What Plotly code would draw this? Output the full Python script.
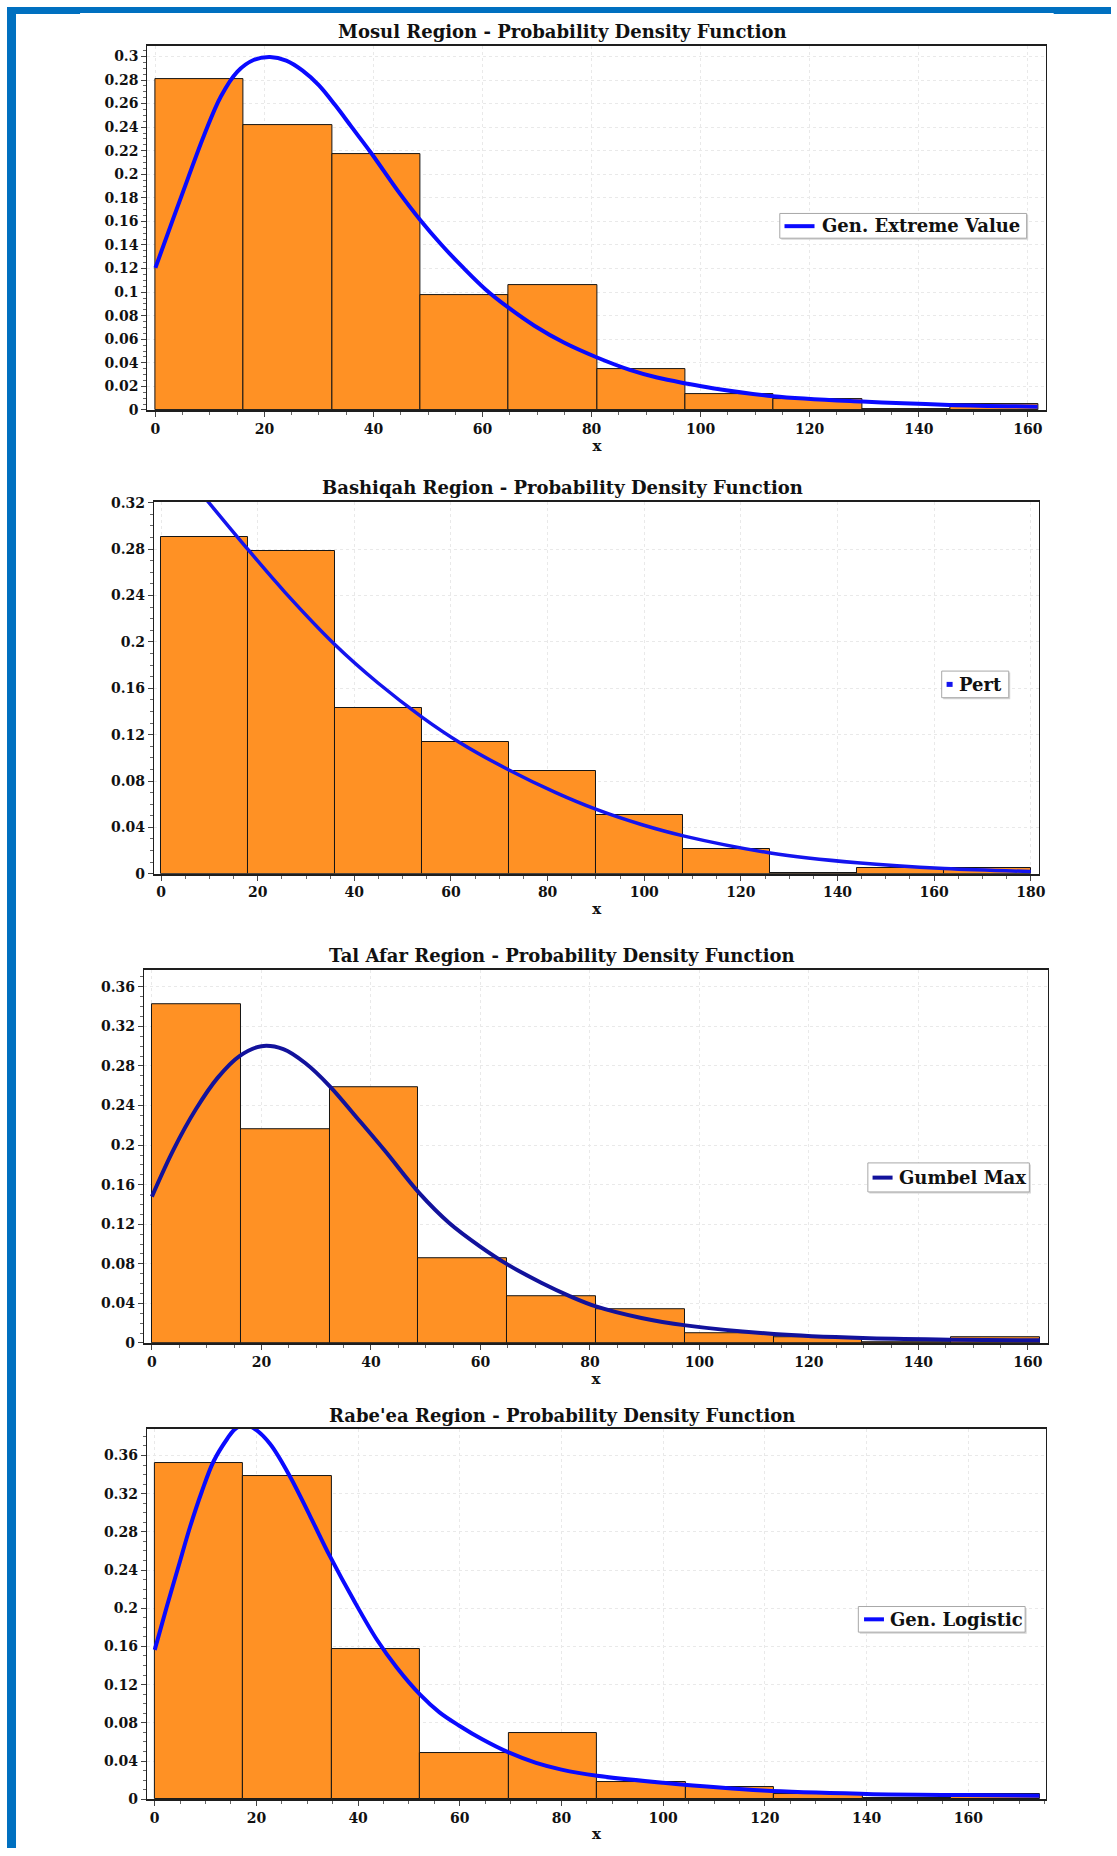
import plotly.graph_objects as go

W, H = 1117, 1856
FONT = "DejaVu Serif"

# ---------------- data ----------------
titles = [
    "Mosul Region - Probability Density Function",
    "Bashiqah Region - Probability Density Function",
    "Tal Afar Region - Probability Density Function",
    "Rabe'ea Region - Probability Density Function",
]
dist_names = ["Gen. Extreme Value", "Pert", "Gumbel Max", "Gen. Logistic"]

mosul_edges = [0, 16.2, 32.4, 48.6, 64.8, 81.0, 97.2, 113.4, 129.6, 145.8, 162.0]
mosul_freq = [0.2806, 0.2420, 0.2168, 0.0976, 0.1064, 0.0343, 0.0134, 0.0091, 0.0006, 0.0049]
mosul_cx = [0, 3, 6, 9, 12, 15, 18, 21, 24, 27, 30, 33, 36, 39.5, 44.7, 48.6, 52.5, 56.5,
            60.5, 64.7, 69.5, 75, 81, 87, 92, 97.3, 102.2, 113.3, 129.6, 145.6, 161.8]
mosul_cy = [0.1206, 0.159, 0.197, 0.234, 0.266, 0.287, 0.297, 0.2995, 0.2965, 0.288, 0.2755,
            0.2585, 0.240, 0.2185, 0.1844, 0.161, 0.140, 0.1205, 0.1025, 0.087, 0.0715, 0.057,
            0.0445, 0.034, 0.0275, 0.0225, 0.0185, 0.0117, 0.0071, 0.0043, 0.0028]

bash_edges = [0, 18, 36, 54, 72, 90, 108, 126, 144, 162, 180]
bash_freq = [0.2903, 0.2780, 0.1432, 0.1135, 0.0888, 0.0506, 0.0216, 0.0005, 0.0048, 0.0046]
bash_cx = [0, 5, 9.9, 18.1, 25.7, 36.0, 44.9, 54.2, 61.7, 72.0, 81.7, 90.1, 99.4, 108.3,
           126.1, 144.1, 162.1, 180]
bash_cy = [0.37, 0.345, 0.32, 0.279, 0.2425, 0.1975, 0.1645, 0.1345, 0.1135, 0.0895, 0.070,
           0.0555, 0.0425, 0.0325, 0.0180, 0.0095, 0.0045, 0.002]

tal_edges = [0, 16.22, 32.44, 48.66, 64.88, 81.1, 97.32, 113.54, 129.76, 145.98, 162.2]
tal_freq = [0.3424, 0.2164, 0.2589, 0.0856, 0.0475, 0.0344, 0.0094, 0.0061, 0.0010, 0.0054]
tal_cx = [0, 4, 8, 12, 16, 20, 24, 28, 32.5, 37.4, 42.6, 48.8, 54.3, 59.9, 65, 71.2, 76.4,
          81.1, 89.4, 97.5, 113.6, 129.8, 146.1, 162.2]
tal_cy = [0.148, 0.196, 0.236, 0.268, 0.290, 0.300, 0.297, 0.283, 0.2595, 0.228, 0.194,
          0.1517, 0.1213, 0.0977, 0.0792, 0.0607, 0.0472, 0.037, 0.0253, 0.0178, 0.0091,
          0.005, 0.0034, 0.0027]

rab_edges = [0, 17.4, 34.8, 52.2, 69.6, 87.0, 104.4, 121.8, 139.2, 156.6, 174.0]
rab_freq = [0.3516, 0.3390, 0.1575, 0.0482, 0.0691, 0.0176, 0.0132, 0.0055, 0.0015, 0.0050]
rab_cx = [0, 2.38, 4.67, 6.97, 9.27, 11.56, 14.2, 15.8, 17.8, 19.7, 22.7, 26.6, 30.6, 34.5,
          39.1, 43.7, 47.6, 52.2, 56, 59.9, 64.5, 69.6, 75, 80, 87, 100, 119.6, 140, 159.5, 174]
rab_cy = [0.1564, 0.2018, 0.2437, 0.2856, 0.3223, 0.3537, 0.377, 0.3877, 0.392, 0.3877,
          0.372, 0.338, 0.296, 0.254, 0.2088, 0.167, 0.138, 0.1095, 0.091, 0.077, 0.0625,
          0.049, 0.038, 0.031, 0.0245, 0.0172, 0.009, 0.0055, 0.0043, 0.0037]

# ---------------- layout geometry (target pixels in the final picture) ----------------
panels = [
    dict(edges=mosul_edges, freq=mosul_freq, cx=mosul_cx, cy=mosul_cy,
         px=(147.3, 1045.7), py=(47.0, 410.7), xr=[-1.47, 163.4], yr=[0, 0.3088], ydt=0.02,
         title_y=32.5, color="#0a0aff", lw=4,
         leg=dict(box=(779.3, 214.3, 1026.0, 239.0), sym=(784, 814), sym_y=227, text_x=819, kind="line")),
    dict(edges=bash_edges, freq=bash_freq, cx=bash_cx, cy=bash_cy,
         px=(153.9, 1038.8), py=(502.7, 874.3), xr=[-1.47, 181.8], yr=[0, 0.3206], ydt=0.04,
         title_y=488.3, color="#1414ee", lw=3.5,
         leg=dict(box=(941.1, 671.7, 1008.1, 698.3), sym=(946, 952), sym_y=685, text_x=956, kind="square")),
    dict(edges=tal_edges, freq=tal_freq, cx=tal_cx, cy=tal_cy,
         px=(143.9, 1047.3), py=(970.7, 1343.3), xr=[-1.44, 163.65], yr=[0, 0.3768], ydt=0.04,
         title_y=955.8, color="#12129c", lw=4,
         leg=dict(box=(867.3, 1163.3, 1028.7, 1192.3), sym=(872, 892), sym_y=1178, text_x=896, kind="line")),
    dict(edges=rab_edges, freq=rab_freq, cx=rab_cx, cy=rab_cy,
         px=(146.8, 1045.4), py=(1429.3, 1799.3), xr=[-1.54, 175.3], yr=[0, 0.3877], ydt=0.04,
         title_y=1415.8, color="#0a0aff", lw=4,
         leg=dict(box=(857.8, 1606.7, 1024.5, 1632.3), sym=(863.5, 883.4), sym_y=1619.5, text_x=887, kind="line")),
]

# Mapping from target picture pixels into figure pixels (compensates the way the
# page ends up photographed: a small vertical page offset and slight rescale).
OFF_Y = 8
SX = 0.994
SY = H / (H + 2 * OFF_Y)


def fx(px):
    return (px / SX) / W


def fy(py):
    return 1 - (py / SY - OFF_Y) / H


def clamp(v):
    return max(0.0, min(1.0, v))


fig = go.Figure()
shapes = []
annotations = []
layout_axes = {}

for i, p in enumerate(panels):
    n = "" if i == 0 else str(i + 1)
    xa, ya = "x" + n, "y" + n
    edges = p["edges"]
    centers = [(edges[k] + edges[k + 1]) / 2 for k in range(len(p["freq"]))]
    widths = [edges[k + 1] - edges[k] for k in range(len(p["freq"]))]

    fig.add_trace(go.Bar(
        x=centers, y=p["freq"], width=widths, xaxis=xa, yaxis=ya,
        marker=dict(color="#ff9124", line=dict(color="#151515", width=1)),
        name="Histogram", showlegend=False, hoverinfo="x+y",
    ))
    fig.add_trace(go.Scatter(
        x=p["cx"], y=p["cy"], xaxis=xa, yaxis=ya, mode="lines",
        line=dict(color=p["color"], width=p["lw"], shape="spline", smoothing=1.0),
        name=dist_names[i], showlegend=False,
    ))

    layout_axes["xaxis" + n] = dict(
        domain=[fx(p["px"][0]), fx(p["px"][1])], range=p["xr"], anchor=ya,
        showline=True, mirror=True, linecolor="#1e1e1e", linewidth=1.5,
        ticks="outside", ticklen=5, tickwidth=1, tickcolor="#444",
        tick0=0, dtick=20,
        tickfont=dict(family=FONT, size=14, color="#111", weight="bold"),
        showgrid=True, gridcolor="#e9e9e9", griddash="dot", gridwidth=1, zeroline=False,
        minor=dict(dtick=5, tick0=0, ticks="outside", ticklen=3, tickcolor="#666", showgrid=False),
        title=dict(text="x", font=dict(family=FONT, size=15, color="#111", weight="bold"), standoff=4),
        fixedrange=True,
    )
    layout_axes["yaxis" + n] = dict(
        domain=[fy(p["py"][1]), fy(p["py"][0])], range=p["yr"], anchor=xa,
        showline=True, mirror=True, linecolor="#1e1e1e", linewidth=1.2,
        ticks="outside", ticklen=5, tickwidth=1, tickcolor="#444",
        tick0=0, dtick=p["ydt"],
        tickfont=dict(family=FONT, size=14, color="#111", weight="bold"),
        showgrid=True, gridcolor="#e9e9e9", griddash="dot", gridwidth=1, zeroline=False,
        minor=dict(dtick=p["ydt"] / 4, tick0=0, ticks="outside", ticklen=3, tickcolor="#666", showgrid=False),
        fixedrange=True,
    )

    # title
    annotations.append(dict(
        text=titles[i], xref="paper", yref="paper", x=fx(562), y=fy(p["title_y"]),
        xanchor="center", yanchor="middle", showarrow=False,
        font=dict(family=FONT, size=18, color="#111", weight="bold"),
    ))

    # manual legend box
    lg = p["leg"]
    x0, y0, x1, y1 = lg["box"]
    shapes.append(dict(type="rect", xref="paper", yref="paper",
                       x0=fx(x0 + 1.5), x1=fx(x1 + 1.5), y0=fy(y1 + 1.5), y1=fy(y0 + 1.5),
                       line=dict(width=0), fillcolor="#d4d4d4", layer="above"))
    shapes.append(dict(type="rect", xref="paper", yref="paper",
                       x0=fx(x0), x1=fx(x1), y0=fy(y1), y1=fy(y0),
                       line=dict(color="#a8a8a8", width=1), fillcolor="white", layer="above"))
    if lg["kind"] == "line":
        shapes.append(dict(type="line", xref="paper", yref="paper",
                           x0=fx(lg["sym"][0]), x1=fx(lg["sym"][1]),
                           y0=fy(lg["sym_y"]), y1=fy(lg["sym_y"]),
                           line=dict(color=p["color"], width=4), layer="above"))
    else:
        shapes.append(dict(type="rect", xref="paper", yref="paper",
                           x0=fx(lg["sym"][0]), x1=fx(lg["sym"][1]),
                           y0=fy(lg["sym_y"] + 2.5), y1=fy(lg["sym_y"] - 2.5),
                           line=dict(width=0), fillcolor=p["color"], layer="above"))
    annotations.append(dict(
        text=dist_names[i], xref="paper", yref="paper", x=fx(lg["text_x"]), y=fy((y0 + y1) / 2),
        xanchor="left", yanchor="middle", showarrow=False,
        font=dict(family=FONT, size=18, color="#111", weight="bold"),
    ))

# blue page border
BLUE = "#0070c0"
shapes.append(dict(type="rect", xref="paper", yref="paper",
                   x0=fx(7), x1=fx(16), y0=0, y1=clamp(fy(6)),
                   line=dict(width=0), fillcolor=BLUE, layer="above"))
shapes.append(dict(type="rect", xref="paper", yref="paper",
                   x0=fx(7), x1=1, y0=fy(14), y1=clamp(fy(6)),
                   line=dict(width=0), fillcolor=BLUE, layer="above"))
shapes.append(dict(type="rect", xref="paper", yref="paper",
                   x0=fx(16), x1=fx(80), y0=fy(15), y1=fy(14),
                   line=dict(width=0), fillcolor=BLUE, layer="above"))
shapes.append(dict(type="rect", xref="paper", yref="paper",
                   x0=fx(1053), x1=1, y0=fy(15), y1=fy(14),
                   line=dict(width=0), fillcolor=BLUE, layer="above"))

fig.update_layout(
    width=W, height=H, margin=dict(l=0, r=0, t=0, b=0),
    paper_bgcolor="white", plot_bgcolor="white",
    bargap=0, barmode="overlay", showlegend=False,
    shapes=shapes, annotations=annotations,
    font=dict(family=FONT, color="#111"),
    **layout_axes,
)

fig.write_html("out.html")
